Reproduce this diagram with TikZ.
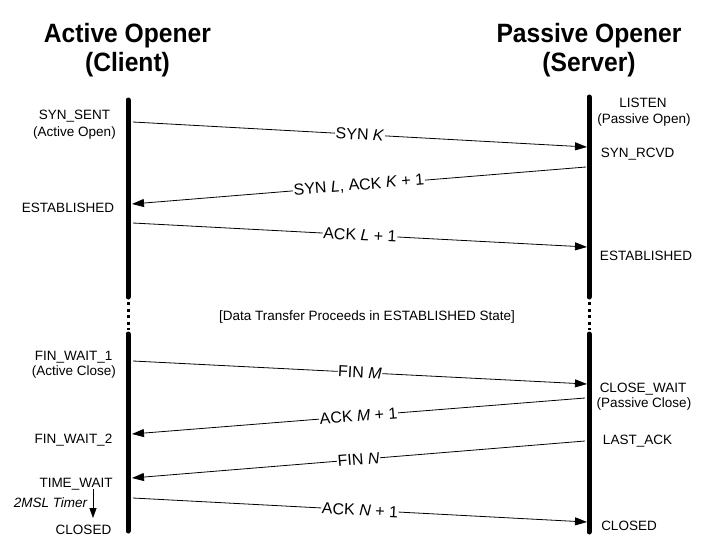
\documentclass[tikz,border=0pt]{standalone}
\usepackage{fontspec}
\setmainfont{Liberation Sans}
\newfontfamily\titlefont[FakeStretch=0.93]{Liberation Sans}
\usetikzlibrary{arrows.meta}
\begin{document}
\begin{tikzpicture}[x=1pt,y=-1pt,
  lifeline/.style={line width=5pt, line cap=round},
  gapline/.style={line width=3pt, dash pattern=on 3pt off 3.5pt},
  msg/.style={line width=0.8pt, -{Triangle[length=12pt,width=8pt]}},
  msglabel/.style={sloped, fill=white, inner sep=0.6pt, font=\fontsize{16}{18}\selectfont},
  state/.style={inner sep=0pt, anchor=base, font=\fontsize{13.5}{16}\selectfont},
  titletext/.style={inner sep=0pt, anchor=base, font=\titlefont\fontsize{26.5}{30}\selectfont\bfseries}]
\useasboundingbox (0,0) rectangle (719,555);

% titles
\node[titletext] (t1) at (127.5,42) {Active Opener};
\node[titletext] (t2) at (127.5,71) {(Client)};
\node[titletext] (t3) at (589,42) {Passive Opener};
\node[titletext] (t4) at (589,71) {(Server)};

% lifelines
\draw[lifeline] (128,100) -- (128,297);
\draw[gapline] (128,302) -- (128,330);
\draw[lifeline] (128,334) -- (128,531);
\draw[lifeline] (589,97) -- (589,297);
\draw[gapline] (589,302) -- (589,330);
\draw[lifeline] (589,334) -- (589,532);

% states left
\node[state] (ls1) at (74.5,119.3) {SYN\_SENT};
\node[state] (ls1b) at (74.5,136) {(Active Open)};
\node[state] (ls2) at (68,212) {ESTABLISHED};
\node[state] (ls3) at (73.7,360) {FIN\_WAIT\_1};
\node[state] (ls3b) at (74,375.7) {(Active Close)};
\node[state] (ls4) at (73.5,443) {FIN\_WAIT\_2};
\node[state] (ls5) at (76,487) {TIME\_WAIT};
\node[state] (ls6) at (50.5,507) {\itshape 2MSL Timer};
\node[state] (ls7) at (83.5,534) {CLOSED};

% states right
\node[state] (rs1) at (643,107) {LISTEN};
\node[state] (rs1b) at (644,123) {(Passive Open)};
\node[state] (rs2) at (637.5,157) {SYN\_RCVD};
\node[state] (rs3) at (646,260) {ESTABLISHED};
\node[state] (rs4) at (643,392) {CLOSE\_WAIT};
\node[state] (rs4b) at (644,407.5) {(Passive Close)};
\node[state] (rs5) at (637.5,444) {LAST\_ACK};
\node[state] (rs6) at (629,530) {CLOSED};

\node[state] (mid) at (367,320) {[Data Transfer Proceeds in ESTABLISHED State]};

% message endpoints
\coordinate (c1) at (133,122); \coordinate (s1) at (587,147);
\coordinate (s2) at (586,167); \coordinate (c2) at (132,204);
\coordinate (c3) at (133,223); \coordinate (s3) at (587,247);
\coordinate (c4) at (133,361); \coordinate (s4) at (587,384);
\coordinate (s5) at (585,398); \coordinate (c5) at (132,434);
\coordinate (s6) at (585,441); \coordinate (c6) at (132,478);
\coordinate (c7) at (133,498); \coordinate (s7) at (587,522);

\draw[msg] (c1) -- node[msglabel] {SYN \textit{K}} (s1);
\draw[msg] (s2) -- node[msglabel] {SYN \textit{L}, ACK \textit{K} + 1} (c2);
\draw[msg] (c3) -- node[msglabel] {ACK \textit{L} + 1} (s3);
\draw[msg] (c4) -- node[msglabel] {FIN \textit{M}} (s4);
\draw[msg] (s5) -- node[msglabel] {ACK \textit{M} + 1} (c5);
\draw[msg] (s6) -- node[msglabel] {FIN \textit{N}} (c6);
\draw[msg] (c7) -- node[msglabel] {ACK \textit{N} + 1} (s7);

% timer arrow
\coordinate (tw) at (93,489);
\coordinate (tc) at (93,518);
\draw[line width=0.8pt, -{Triangle[length=10pt,width=7pt]}] (tw) -- (tc);
\end{tikzpicture}
\end{document}
